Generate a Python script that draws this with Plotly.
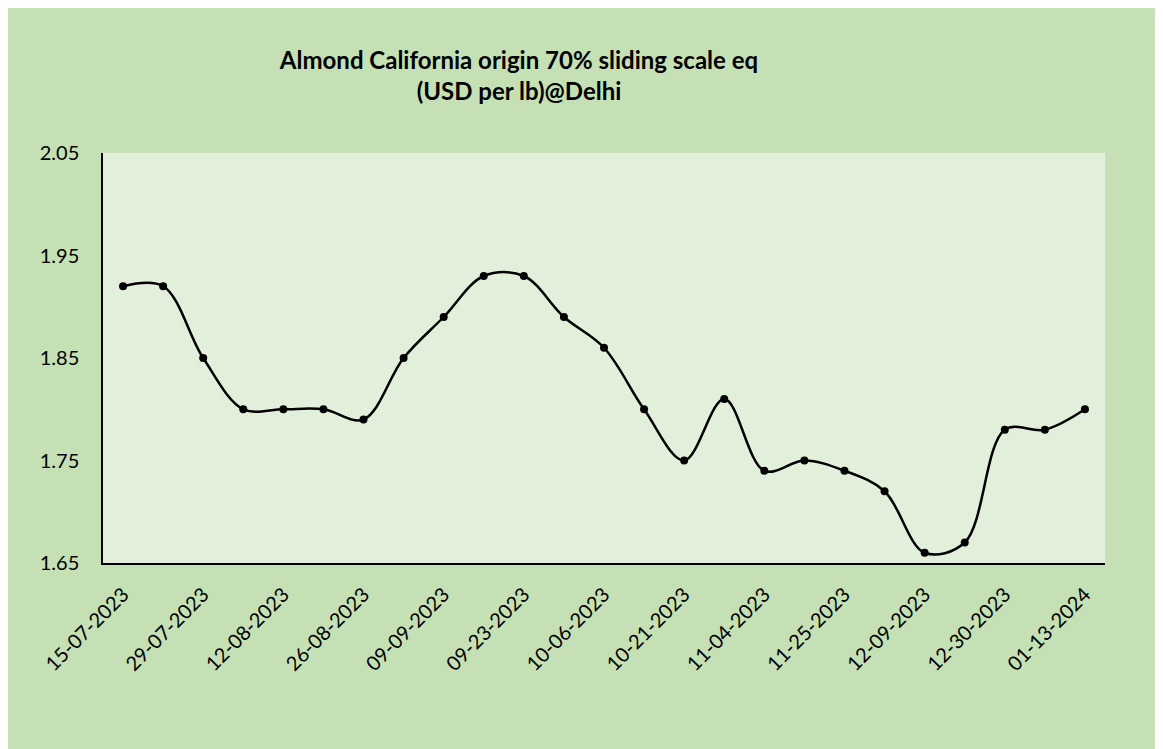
import plotly.graph_objects as go

dates = ["15-07-2023", "22-07-2023", "29-07-2023", "05-08-2023", "12-08-2023",
         "19-08-2023", "26-08-2023", "02-09-2023", "09-09-2023", "09-16-2023",
         "09-23-2023", "09-30-2023", "10-06-2023", "10-14-2023", "10-21-2023",
         "10-28-2023", "11-04-2023", "11-18-2023", "11-25-2023", "12-02-2023",
         "12-09-2023", "12-16-2023", "12-30-2023", "01-06-2024", "01-13-2024"]
prices = [1.92, 1.92, 1.85, 1.80, 1.80, 1.80, 1.79, 1.85, 1.89, 1.93,
          1.93, 1.89, 1.86, 1.80, 1.75, 1.81, 1.74, 1.75, 1.74, 1.72,
          1.66, 1.67, 1.78, 1.78, 1.80]
shown_ticks = dates[::2]
y_ticks = [1.65, 1.75, 1.85, 1.95, 2.05]

W, H = 1155, 741

fig = go.Figure()
fig.add_trace(go.Scatter(
    x=dates, y=prices, mode="lines+markers",
    line=dict(color="black", width=2.5, shape="spline", smoothing=1.0),
    marker=dict(color="black", size=8),
    showlegend=False,
))

fig.update_layout(
    width=W, height=H,
    paper_bgcolor="#C5E0B4",
    plot_bgcolor="#E2EFDA",
    margin=dict(l=95, r=58, t=145, b=186),
    font=dict(family="Lato, Open Sans, sans-serif", size=20, color="black"),
    title=dict(
        text="<b>Almond California origin 70% sliding scale eq<br>(USD per lb)@Delhi</b>",
        x=511 / W, xanchor="center", y=1 - 61 / H, yanchor="top",
        font=dict(size=24, color="black"),
    ),
    xaxis=dict(
        type="category", categoryorder="array", categoryarray=dates,
        range=[-0.5, len(dates) - 0.5],
        tickmode="array", tickvals=shown_ticks, ticktext=shown_ticks,
        tickangle=-45, showgrid=False, showline=True, linecolor="black",
        linewidth=2, ticks="", zeroline=False, ticklabelstandoff=10,
    ),
    yaxis=dict(
        range=[1.65, 2.05], tickmode="array", tickvals=y_ticks,
        ticktext=[f"{v:.2f}" for v in y_ticks],
        showgrid=False, showline=True, linecolor="black", linewidth=1.5,
        ticks="", zeroline=False, ticklabelstandoff=18,
    ),
)

fig.write_html("out.html")
